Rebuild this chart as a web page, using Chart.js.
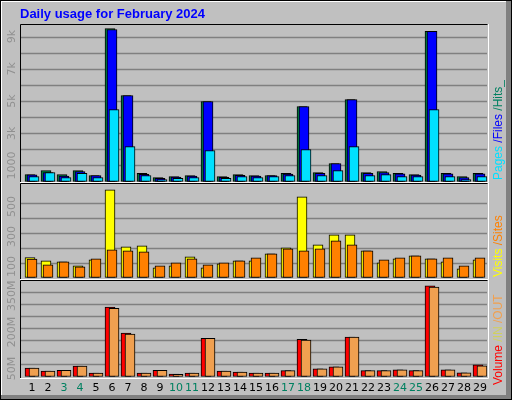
<!DOCTYPE html>
<html><head><meta charset="utf-8">
<script src="https://cdn.jsdelivr.net/npm/chart.js@4"></script>
<style>html,body{margin:0;padding:0;background:#C0C0C0;}canvas{display:block;}</style>
</head><body>
<div style="position:relative;width:512px;height:400px;"><canvas id="c" width="512" height="400"></canvas></div>
<script>
const days = [1,2,3,4,5,6,7,8,9,10,11,12,13,14,15,16,17,18,19,20,21,22,23,24,25,26,27,28,29];
const weekendDays = [3,4,10,11,17,18,24,25];
const hits  = [435,680,430,680,370,9500,5340,500,250,310,370,4970,310,430,370,370,500,4660,560,1120,5090,560,620,500,430,9320,500,310,500];
const files = [420,560,330,620,360,9440,5340,440,200,280,330,4970,260,380,330,360,460,4660,500,1120,5090,500,560,480,400,9320,480,250,480];
const pages = [310,560,250,500,250,4470,2170,370,120,190,250,1925,190,310,250,310,370,1990,370,680,2170,370,430,310,310,4470,310,120,310];
const visits = [133,111,104,78,118,585,204,211,64,78,138,64,91,111,111,158,198,538,218,284,284,178,98,124,144,124,104,58,118];
const sites  = [123,85,104,71,124,185,178,171,78,98,124,85,98,111,131,158,191,178,191,244,218,178,118,131,144,124,131,78,131];
const volume = [35,22,26,43,14,287,179,14,26,10,14,158,22,18,14,14,24,154,32,40,163,24,24,28,24,375,28,15,48];
const volOut = [35,22,26,43,14,282,175,14,26,9,14,158,22,18,14,14,24,150,32,40,163,24,24,28,24,370,28,15,44];
const topTicks = [[9000,'9k'],[7000,'7k'],[5000,'5k'],[3000,'3k'],[1000,'1000']];
const midTicks = [[500,'500'],[300,'300'],[100,'100']];
const botTicks = [[350,'350M'],[200,'200M'],[50,'50M']];

const L=21,R=487,T=25,B=378, PX=16;
const xmin = 1 + (L-32)/PX, xmax = 1 + (R-32)/PX;
function xAxis(s){return {type:'linear',display:false,offset:false,min:xmin - s/PX,max:xmax - s/PX};}
function yAxis(zero,k){return {type:'linear',display:false,min:-(B-zero)/k,max:(zero-T)/k};}
const pts = a => a.map((v,i)=>({x:days[i],y:v}));
function ds(data,color,xa,ya,order){return {data:pts(data),order:order,backgroundColor:color,borderColor:'#000',borderWidth:1,barThickness:10,grouped:false,xAxisID:xa,yAxisID:ya,borderSkipped:false};}

const panels = [
 {id:'y1',top:25,bottom:182,grid:[1000,2000,3000,4000,5000,6000,7000,8000,9000],ticks:topTicks,off:0},
 {id:'y2',top:184,bottom:279,grid:[100,200,300,400,500],ticks:midTicks,off:4},
 {id:'y3',top:281,bottom:378,grid:[50,100,150,200,250,300,350],ticks:botTicks,off:4}
];

const deco = {
 id:'deco',
 beforeDatasetsDraw(chart){
  const c=chart.ctx; c.save();
  c.fillStyle='#808080'; c.fillRect(506,0,6,400); c.fillRect(0,395,512,5);
  c.fillStyle='#fff'; c.fillRect(1,1,505,1); c.fillRect(1,1,1,394);
  c.strokeStyle='#000'; c.lineWidth=1; c.strokeRect(0.5,0.5,511,399);
  panels.forEach(p=>{
    const y=chart.scales[p.id];
    c.strokeStyle='#808080'; c.lineWidth=1.5;
    p.grid.forEach(v=>{const py=Math.round(y.getPixelForValue(v))+0.5;c.beginPath();c.moveTo(L,py);c.lineTo(R,py);c.stroke();});
    c.lineWidth=1;
    c.strokeStyle='#000'; c.beginPath(); c.moveTo(L-0.5,p.bottom); c.lineTo(L-0.5,p.top-0.5); c.lineTo(R+0.5,p.top-0.5); c.stroke();
    c.strokeStyle='#fff'; c.beginPath(); c.moveTo(R+1.5,p.top-1); c.lineTo(R+1.5,p.bottom+0.5); c.lineTo(L-1,p.bottom+0.5); c.stroke();
    c.fillStyle='#909090'; c.font='11px "DejaVu Sans"'; c.textAlign='center'; c.textBaseline='middle';
    p.ticks.forEach(([v,t])=>{const py=y.getPixelForValue(v)+p.off;c.save();c.translate(12,py);c.rotate(-Math.PI/2);c.fillText(t,0,0);c.restore();});
  });
  c.restore();
 },
 afterDraw(chart){
  const c=chart.ctx; c.save();
  c.fillStyle='#0000FF'; c.font='bold 13px "Liberation Sans"'; c.textAlign='left'; c.textBaseline='middle';
  c.fillText('Daily usage for February 2024',20,14);
  const x=chart.scales.x0;
  c.font='11px "DejaVu Sans"'; c.textAlign='center';
  days.forEach(d=>{c.fillStyle=weekendDays.includes(d)?'#008060':'#000';c.fillText(String(d),x.getPixelForValue(d),388);});
  function legend(parts,bottom){
    c.save(); c.translate(499,bottom); c.rotate(-Math.PI/2); c.font='12px "Liberation Sans"'; c.textAlign='left'; c.textBaseline='middle';
    let px=0; parts.forEach(([t,col])=>{c.fillStyle=col;c.fillText(t,px,0);px+=c.measureText(t).width;}); c.restore();
  }
  legend([['Pages','#00E0FF'],[' /Files','#0000FF'],[' /Hits_','#008060']],180);
  legend([['Visits','#FFFF00'],[' /Sites','#FF8000']],277);
  legend([['Volume','#FF0000'],[' /IN','#D0D060'],[' /OUT','#F0A050']],385);
  c.restore();
 }
};

new Chart(document.getElementById('c'),{
 type:'bar',
 data:{datasets:[
  ds(hits,'#008040','xm2','y1',3), ds(files,'#0000FF','x0','y1',2), ds(pages,'#00E0FF','xp2','y1',1),
  ds(visits,'#FFFF00','xm2','y2',2), ds(sites,'#FF8000','x0','y2',1),
  ds(volume,'#FF0000','xm2','y3',2), ds(volOut,'#F0A050','xp2','y3',1)
 ]},
 options:{responsive:false,animation:false,devicePixelRatio:1,
  layout:{padding:{left:L,right:512-R,top:T,bottom:400-B}},
  plugins:{legend:{display:false},tooltip:{enabled:false}},
  scales:{xm2:xAxis(-2),x0:xAxis(0),xp2:xAxis(2),
   y1:yAxis(181.5,16.1/1000),y2:yAxis(277.5,0.15),y3:yAxis(376.5,12.1/50)}
 },
 plugins:[deco]
});
</script></body></html>
